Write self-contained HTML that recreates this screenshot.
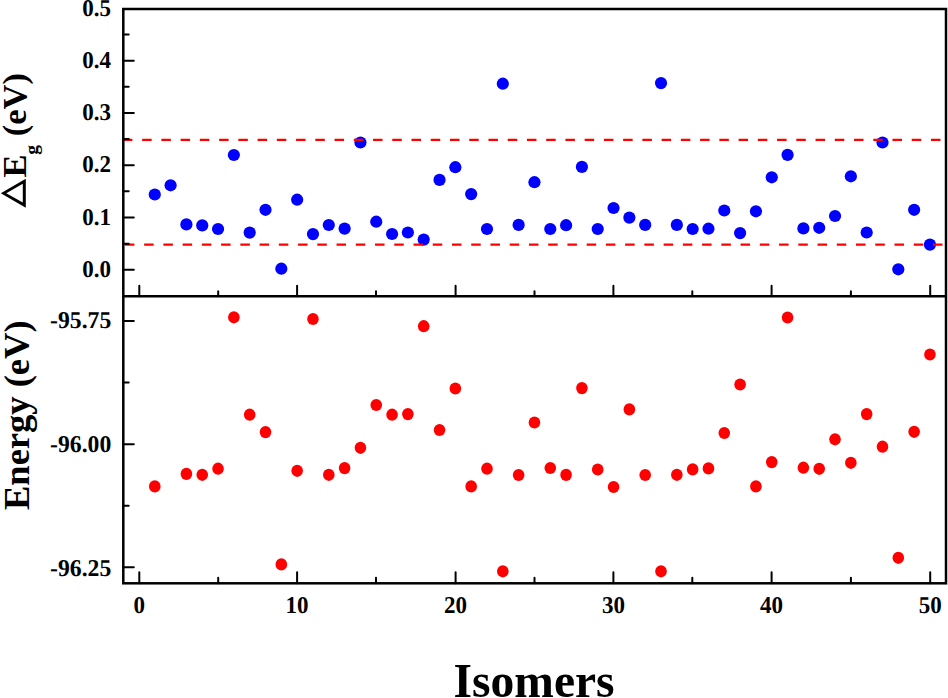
<!DOCTYPE html>
<html><head><meta charset="utf-8"><style>
html,body{margin:0;padding:0;background:#fff;overflow:hidden;}
svg{display:block;}
text{font-family:"Liberation Serif",serif;font-weight:bold;fill:#000;}
.tk{font-size:23px;text-rendering:geometricPrecision;}
.yt{font-size:36.5px;}
.xt{font-size:48.5px;}
.sub{font-size:19.5px;}
.yt2{font-size:34.5px;}
</style></head><body>
<svg width="948" height="698" viewBox="0 0 948 698">
<rect width="948" height="698" fill="#fff"/>
<circle cx="154.77" cy="194.50" r="6.1" fill="#0000ff"/>
<circle cx="170.59" cy="185.30" r="6.1" fill="#0000ff"/>
<circle cx="186.41" cy="224.40" r="6.1" fill="#0000ff"/>
<circle cx="202.23" cy="225.40" r="6.1" fill="#0000ff"/>
<circle cx="218.05" cy="229.00" r="6.1" fill="#0000ff"/>
<circle cx="233.87" cy="155.00" r="6.1" fill="#0000ff"/>
<circle cx="249.69" cy="232.60" r="6.1" fill="#0000ff"/>
<circle cx="265.51" cy="209.80" r="6.1" fill="#0000ff"/>
<circle cx="281.33" cy="268.70" r="6.1" fill="#0000ff"/>
<circle cx="297.15" cy="199.70" r="6.1" fill="#0000ff"/>
<circle cx="312.97" cy="234.10" r="6.1" fill="#0000ff"/>
<circle cx="328.79" cy="225.00" r="6.1" fill="#0000ff"/>
<circle cx="344.61" cy="228.60" r="6.1" fill="#0000ff"/>
<circle cx="360.43" cy="142.50" r="6.1" fill="#0000ff"/>
<circle cx="376.25" cy="221.70" r="6.1" fill="#0000ff"/>
<circle cx="392.07" cy="234.00" r="6.1" fill="#0000ff"/>
<circle cx="407.89" cy="232.50" r="6.1" fill="#0000ff"/>
<circle cx="423.71" cy="239.60" r="6.1" fill="#0000ff"/>
<circle cx="439.53" cy="179.90" r="6.1" fill="#0000ff"/>
<circle cx="455.35" cy="167.20" r="6.1" fill="#0000ff"/>
<circle cx="471.17" cy="194.10" r="6.1" fill="#0000ff"/>
<circle cx="486.99" cy="229.00" r="6.1" fill="#0000ff"/>
<circle cx="502.81" cy="83.70" r="6.1" fill="#0000ff"/>
<circle cx="518.63" cy="224.90" r="6.1" fill="#0000ff"/>
<circle cx="534.45" cy="182.20" r="6.1" fill="#0000ff"/>
<circle cx="550.27" cy="229.00" r="6.1" fill="#0000ff"/>
<circle cx="566.09" cy="225.20" r="6.1" fill="#0000ff"/>
<circle cx="581.91" cy="166.90" r="6.1" fill="#0000ff"/>
<circle cx="597.73" cy="229.00" r="6.1" fill="#0000ff"/>
<circle cx="613.55" cy="208.00" r="6.1" fill="#0000ff"/>
<circle cx="629.37" cy="217.60" r="6.1" fill="#0000ff"/>
<circle cx="645.19" cy="224.90" r="6.1" fill="#0000ff"/>
<circle cx="661.01" cy="83.10" r="6.1" fill="#0000ff"/>
<circle cx="676.83" cy="224.90" r="6.1" fill="#0000ff"/>
<circle cx="692.65" cy="229.00" r="6.1" fill="#0000ff"/>
<circle cx="708.47" cy="228.70" r="6.1" fill="#0000ff"/>
<circle cx="724.29" cy="210.50" r="6.1" fill="#0000ff"/>
<circle cx="740.11" cy="233.10" r="6.1" fill="#0000ff"/>
<circle cx="755.93" cy="211.30" r="6.1" fill="#0000ff"/>
<circle cx="771.75" cy="177.30" r="6.1" fill="#0000ff"/>
<circle cx="787.57" cy="154.90" r="6.1" fill="#0000ff"/>
<circle cx="803.39" cy="228.40" r="6.1" fill="#0000ff"/>
<circle cx="819.21" cy="227.80" r="6.1" fill="#0000ff"/>
<circle cx="835.03" cy="216.00" r="6.1" fill="#0000ff"/>
<circle cx="850.85" cy="176.30" r="6.1" fill="#0000ff"/>
<circle cx="866.67" cy="232.50" r="6.1" fill="#0000ff"/>
<circle cx="882.49" cy="142.50" r="6.1" fill="#0000ff"/>
<circle cx="898.31" cy="269.30" r="6.1" fill="#0000ff"/>
<circle cx="914.13" cy="209.80" r="6.1" fill="#0000ff"/>
<circle cx="929.95" cy="244.60" r="6.1" fill="#0000ff"/>
<ellipse cx="154.77" cy="486.40" rx="5.8" ry="6.1" fill="#ff0000"/>
<ellipse cx="186.41" cy="473.90" rx="5.8" ry="6.1" fill="#ff0000"/>
<ellipse cx="202.23" cy="474.80" rx="5.8" ry="6.1" fill="#ff0000"/>
<ellipse cx="218.05" cy="468.70" rx="5.8" ry="6.1" fill="#ff0000"/>
<ellipse cx="233.87" cy="317.30" rx="5.8" ry="6.1" fill="#ff0000"/>
<ellipse cx="249.69" cy="414.70" rx="5.8" ry="6.1" fill="#ff0000"/>
<ellipse cx="265.51" cy="432.10" rx="5.8" ry="6.1" fill="#ff0000"/>
<ellipse cx="281.33" cy="564.40" rx="5.8" ry="6.1" fill="#ff0000"/>
<ellipse cx="297.15" cy="470.80" rx="5.8" ry="6.1" fill="#ff0000"/>
<ellipse cx="312.97" cy="319.00" rx="5.8" ry="6.1" fill="#ff0000"/>
<ellipse cx="328.79" cy="474.80" rx="5.8" ry="6.1" fill="#ff0000"/>
<ellipse cx="344.61" cy="468.10" rx="5.8" ry="6.1" fill="#ff0000"/>
<ellipse cx="360.43" cy="447.80" rx="5.8" ry="6.1" fill="#ff0000"/>
<ellipse cx="376.25" cy="405.00" rx="5.8" ry="6.1" fill="#ff0000"/>
<ellipse cx="392.07" cy="414.70" rx="5.8" ry="6.1" fill="#ff0000"/>
<ellipse cx="407.89" cy="414.10" rx="5.8" ry="6.1" fill="#ff0000"/>
<ellipse cx="423.71" cy="326.20" rx="5.8" ry="6.1" fill="#ff0000"/>
<ellipse cx="439.53" cy="430.00" rx="5.8" ry="6.1" fill="#ff0000"/>
<ellipse cx="455.35" cy="388.50" rx="5.8" ry="6.1" fill="#ff0000"/>
<ellipse cx="471.17" cy="486.40" rx="5.8" ry="6.1" fill="#ff0000"/>
<ellipse cx="486.99" cy="468.70" rx="5.8" ry="6.1" fill="#ff0000"/>
<ellipse cx="502.81" cy="571.30" rx="5.8" ry="6.1" fill="#ff0000"/>
<ellipse cx="518.63" cy="475.00" rx="5.8" ry="6.1" fill="#ff0000"/>
<ellipse cx="534.45" cy="422.50" rx="5.8" ry="6.1" fill="#ff0000"/>
<ellipse cx="550.27" cy="468.00" rx="5.8" ry="6.1" fill="#ff0000"/>
<ellipse cx="566.09" cy="474.90" rx="5.8" ry="6.1" fill="#ff0000"/>
<ellipse cx="581.91" cy="388.10" rx="5.8" ry="6.1" fill="#ff0000"/>
<ellipse cx="597.73" cy="469.50" rx="5.8" ry="6.1" fill="#ff0000"/>
<ellipse cx="613.55" cy="487.00" rx="5.8" ry="6.1" fill="#ff0000"/>
<ellipse cx="629.37" cy="409.40" rx="5.8" ry="6.1" fill="#ff0000"/>
<ellipse cx="645.19" cy="475.00" rx="5.8" ry="6.1" fill="#ff0000"/>
<ellipse cx="661.01" cy="571.30" rx="5.8" ry="6.1" fill="#ff0000"/>
<ellipse cx="676.83" cy="474.80" rx="5.8" ry="6.1" fill="#ff0000"/>
<ellipse cx="692.65" cy="469.40" rx="5.8" ry="6.1" fill="#ff0000"/>
<ellipse cx="708.47" cy="468.40" rx="5.8" ry="6.1" fill="#ff0000"/>
<ellipse cx="724.29" cy="433.00" rx="5.8" ry="6.1" fill="#ff0000"/>
<ellipse cx="740.11" cy="384.50" rx="5.8" ry="6.1" fill="#ff0000"/>
<ellipse cx="755.93" cy="486.40" rx="5.8" ry="6.1" fill="#ff0000"/>
<ellipse cx="771.75" cy="462.10" rx="5.8" ry="6.1" fill="#ff0000"/>
<ellipse cx="787.57" cy="317.50" rx="5.8" ry="6.1" fill="#ff0000"/>
<ellipse cx="803.39" cy="467.70" rx="5.8" ry="6.1" fill="#ff0000"/>
<ellipse cx="819.21" cy="468.80" rx="5.8" ry="6.1" fill="#ff0000"/>
<ellipse cx="835.03" cy="439.30" rx="5.8" ry="6.1" fill="#ff0000"/>
<ellipse cx="850.85" cy="462.80" rx="5.8" ry="6.1" fill="#ff0000"/>
<ellipse cx="866.67" cy="414.10" rx="5.8" ry="6.1" fill="#ff0000"/>
<ellipse cx="882.49" cy="446.70" rx="5.8" ry="6.1" fill="#ff0000"/>
<ellipse cx="898.31" cy="557.80" rx="5.8" ry="6.1" fill="#ff0000"/>
<ellipse cx="914.13" cy="431.80" rx="5.8" ry="6.1" fill="#ff0000"/>
<ellipse cx="929.95" cy="354.50" rx="5.8" ry="6.1" fill="#ff0000"/>
<line x1="122.9" y1="139.9" x2="943" y2="139.9" stroke="#ff0000" stroke-width="2.2" stroke-dasharray="9.5 9.74"/>
<line x1="124.9" y1="244.6" x2="943" y2="244.6" stroke="#ff0000" stroke-width="2.2" stroke-dasharray="9.5 9.74"/>
<path d="M123.30 269.80h10.5 M123.30 243.66h5.4 M123.30 217.51h10.5 M123.30 191.37h5.4 M123.30 165.22h10.5 M123.30 139.08h5.4 M123.30 112.93h10.5 M123.30 86.78h5.4 M123.30 60.64h10.5 M123.30 34.50h5.4 M123.30 321.05h10.5 M123.30 382.62h5.4 M123.30 444.20h10.5 M123.30 505.77h5.4 M123.30 567.35h10.5 M139.30 296.20v-10.4 M139.30 583.30v-11.1 M218.20 296.20v-5.0 M218.20 583.30v-5.6 M297.10 296.20v-10.4 M297.10 583.30v-11.1 M376.00 296.20v-5.0 M376.00 583.30v-5.6 M455.60 296.20v-10.4 M455.60 583.30v-11.1 M534.50 296.20v-5.0 M534.50 583.30v-5.6 M613.40 296.20v-10.4 M613.40 583.30v-11.1 M692.30 296.20v-5.0 M692.30 583.30v-5.6 M771.60 296.20v-10.4 M771.60 583.30v-11.1 M850.90 296.20v-5.0 M850.90 583.30v-5.6 M930.20 296.20v-10.4 M930.20 583.30v-11.1" stroke="#000" stroke-width="2.0" stroke-linecap="round" fill="none"/>
<rect x="123.3" y="9.0" width="822.7" height="574.3" fill="none" stroke="#000" stroke-width="2.5"/>
<line x1="123.3" y1="296.2" x2="946.0" y2="296.2" stroke="#000" stroke-width="2.5"/>
<text transform="translate(111.1,276.90) scale(1,1.05)" text-anchor="end" class="tk">0.0</text>
<text transform="translate(111.1,224.61) scale(1,1.05)" text-anchor="end" class="tk">0.1</text>
<text transform="translate(111.1,172.32) scale(1,1.05)" text-anchor="end" class="tk">0.2</text>
<text transform="translate(111.1,120.03) scale(1,1.05)" text-anchor="end" class="tk">0.3</text>
<text transform="translate(111.1,67.74) scale(1,1.05)" text-anchor="end" class="tk">0.4</text>
<text transform="translate(111.1,16.25) scale(1,1.05)" text-anchor="end" class="tk">0.5</text>
<text transform="translate(111.3,328.15) scale(1.03,1.05)" text-anchor="end" class="tk">-95.75</text>
<text transform="translate(111.3,452.00) scale(1.03,1.05)" text-anchor="end" class="tk">-96.00</text>
<text transform="translate(111.3,575.95) scale(1.03,1.05)" text-anchor="end" class="tk">-96.25</text>
<text transform="translate(139.30,612.9) scale(1,1.05)" text-anchor="middle" class="tk">0</text>
<text transform="translate(297.10,612.9) scale(1,1.05)" text-anchor="middle" class="tk">10</text>
<text transform="translate(455.60,612.9) scale(1,1.05)" text-anchor="middle" class="tk">20</text>
<text transform="translate(613.40,612.9) scale(1,1.05)" text-anchor="middle" class="tk">30</text>
<text transform="translate(771.60,612.9) scale(1,1.05)" text-anchor="middle" class="tk">40</text>
<text transform="translate(930.20,612.9) scale(1,1.05)" text-anchor="middle" class="tk">50</text>
<text transform="translate(534.1,696.5) scale(0.98,1)" text-anchor="middle" class="xt">Isomers</text>
<text transform="translate(29.3,510) rotate(-90)" class="yt">Energy (eV)</text>
<path d="M0.8 193.2L25.8 178.7L25.8 207.7Z M6.3 193.2L22.8 183.8L22.8 202.6Z" fill="#000" fill-rule="evenodd"/>
<text transform="translate(25.6,177.6) rotate(-90)" class="yt2">E</text>
<text transform="translate(38.3,154.8) rotate(-90)" class="sub">g</text>
<text transform="translate(26.4,136.2) rotate(-90)" class="yt2">(eV)</text>
</svg></body></html>
